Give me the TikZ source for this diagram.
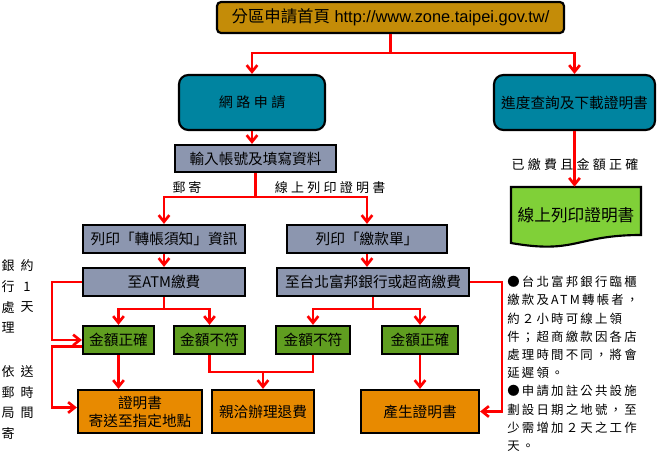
\documentclass[tikz,border=0pt]{standalone}
\usepackage{fontspec}
\setmainfont{Liberation Sans}
\newfontfamily\cjk{Noto Sans CJK TC}
\newfontfamily\cjksp[LetterSpace=25]{Noto Sans CJK TC}
\newfontfamily\cjkn[LetterSpace=18]{Noto Sans CJK TC}
\usetikzlibrary{arrows.meta}
\definecolor{cgold}{RGB}{196,140,8}
\definecolor{cteal}{RGB}{0,132,160}
\definecolor{cgray}{RGB}{140,150,175}
\definecolor{cgreen}{RGB}{96,158,32}
\definecolor{corange}{RGB}{232,138,0}
\definecolor{clight}{RGB}{128,208,56}
\newcommand\bx[7]{\node[#1, minimum width={(#5-#3)*0.75pt}, minimum height={(#6-#4)*0.75pt}] (#2) at ({(#3+#5)/2},{(#4+#6)/2}) {#7};}
\begin{document}
\begin{tikzpicture}[x=0.75pt,y=-0.75pt,
  box/.style={draw=black, line width=1.6pt, inner sep=0pt, font=\cjk\fontsize{11}{13.5}\selectfont},
  graybox/.style={box, fill=cgray},
  greenbox/.style={box, fill=cgreen},
  orangebox/.style={box, fill=corange},
  tealbox/.style={box, fill=cteal, rounded corners=7pt},
  lbl/.style={inner sep=0pt, font=\cjksp\fontsize{9.75}{12}\selectfont},
  vtxt/.style={inner sep=0pt, font=\cjk\fontsize{9.75}{12}\selectfont},
  notetxt/.style={inner sep=0pt, anchor=west, font=\cjkn\fontsize{9.3}{12}\selectfont},
  ln/.style={draw=red, line width=2pt},
  arr/.style={ln, -{Straight Barb[length=5pt,width=8pt]}}]
\useasboundingbox (0,0) rectangle (657,452);

% boxes
\bx{box, fill=cgold, rounded corners=3pt, font=\fontsize{12.3}{14}\selectfont}{top}{217}{2}{564}{33}{{\cjk 分區申請首頁}~http://www.zone.taipei.gov.tw/}
\bx{tealbox, font=\cjksp\fontsize{10.5}{13}\selectfont}{web}{179}{75}{325}{130}{網路申請}
\bx{tealbox}{prog}{494}{75}{655}{130}{進度查詢及下載證明書}
\bx{graybox}{input}{175}{145}{336}{172}{輸入帳號及填寫資料}
\bx{graybox}{print1}{83}{225}{245}{253}{列印「轉帳須知」資訊}
\bx{graybox}{print2}{287}{225}{447}{253}{列印「繳款單」}
\bx{graybox}{atm}{83}{268}{245}{296}{至ATM繳費}
\bx{graybox}{fubon}{277}{268}{469}{296}{至台北富邦銀行或超商繳費}
\bx{greenbox}{ok1}{83}{326}{154}{354}{金額正確}
\bx{greenbox}{ng1}{174}{326}{245}{354}{金額不符}
\bx{greenbox}{ng2}{276}{326}{350}{354}{金額不符}
\bx{greenbox}{ok2}{382}{326}{458}{354}{金額正確}
\bx{orangebox, align=center}{mail}{78}{390}{202}{433}{證明書\\寄送至指定地點}
\bx{orangebox}{refund}{212}{390}{314}{433}{親洽辦理退費}
\bx{orangebox}{gen}{361}{390}{479}{433}{產生證明書}

% document shape
\draw[line width=1.6pt, fill=clight] (511,187) -- (641,187) -- (641,235) .. controls (576,235) and (576,254.5) .. (511,243) -- cycle;
\bx{inner sep=0pt, font=\cjk\fontsize{12.5}{15}\selectfont}{doc}{511}{187}{641}{243}{線上列印證明書}

% labels
\node[lbl] (lmail) at (187,188) {郵\hspace{2pt}寄};
\node[lbl] (lonline) at (330,188) {線上列印證明書};
\node[lbl] (lpaid) at (575,165) {已繳費且金額正確};

% helper coordinates
\coordinate (s1) at (391,53);
\coordinate (s2) at (255,197);
\coordinate (s3) at (164,309);
\coordinate (s4) at (373,309);
\coordinate (s5) at (263,372);
\coordinate (lx) at (52,0);
\coordinate (rx) at (502,0);
\coordinate (o1) at ([yshift=-5pt]ok1.west);
\coordinate (m1) at ([yshift=3pt]mail.west);

% connectors
\draw[arr] (top.south) -- (top.south |- s1) -| (web.north);
\draw[arr] (top.south |- s1) -| (prog.north);
\draw[arr] (prog.south) -- (prog.south |- doc.north);
\draw[arr] (web.south) -- (web.south |- input.north);
\draw[arr] (input.south) -- (input.south |- s2) -| (print1.north);
\draw[arr] (input.south |- s2) -| (print2.north);
\draw[arr] (print1.south) -- (print1.south |- atm.north);
\draw[arr] (print2.south) -- (print2.south |- fubon.north);
\draw[arr] (atm.south) -- (atm.south |- s3) -| (ok1.north);
\draw[arr] (atm.south |- s3) -| (ng1.north);
\draw[arr] (fubon.south) -- (fubon.south |- s4) -| (ng2.north);
\draw[arr] (fubon.south |- s4) -| (ok2.north);
\draw[arr] (ok1.south) -- (ok1.south |- mail.north);
\draw[ln] (ng1.south) |- (s5) -| (ng2.south);
\draw[arr] (s5) -- (refund.north);
\draw[arr] (ok2.south) -- (ok2.south |- gen.north);
\draw[arr] (atm.west) -- (atm.west -| lx) |- (ok1.west);
\draw[arr] (o1) -- (o1 -| lx) |- (m1);
\draw[arr] (fubon.east) -- (fubon.east -| rx) |- (gen.east);

% left vertical notes
\foreach \c [count=\i] in {銀,行,處,理}
  \node[vtxt] (va\i) at (8,{266+20.7*(\i-1)}) {\c};
\foreach \c [count=\i] in {約,1,天}
  \node[vtxt] (vb\i) at (27,{266+20.7*(\i-1)}) {\c};
\foreach \c [count=\i] in {依,郵,局,寄}
  \node[vtxt] (vc\i) at (8,{372+20.4*(\i-1)}) {\c};
\foreach \c [count=\i] in {送,時,間}
  \node[vtxt] (vd\i) at (27,{372+20.4*(\i-1)}) {\c};

% right note block
\foreach \t [count=\i] in {●台北富邦銀行臨櫃, 繳款及ATM轉帳者，, 約２小時可線上領, 件；超商繳款因各店, 處理時間不同，將會, 延遲領。, ●申請加註公共設施, 劃設日期之地號，至, 少需增加２天之工作, 天。}
  \node[notetxt] (n\i) at (507,{282+18.2*(\i-1)}) {\t};
\end{tikzpicture}
\end{document}
